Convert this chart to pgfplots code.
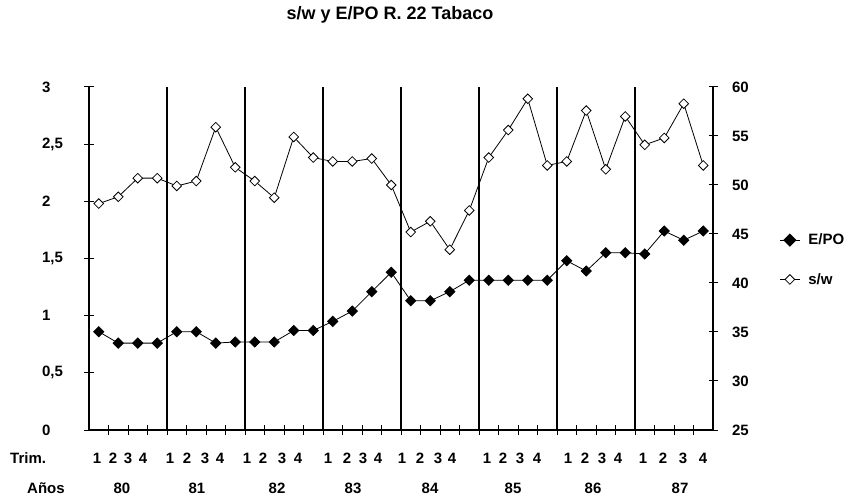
\documentclass[border=0pt]{standalone}
\usepackage{pgfplots}
\pgfplotsset{compat=1.18}
\usepackage{fontspec}
\setmainfont{Liberation Sans}
\newcommand{\lblfont}{\fontsize{15bp}{18bp}\selectfont\bfseries}
\newcommand{\titfont}{\fontsize{18bp}{21bp}\selectfont\bfseries}

\begin{document}
\begin{tikzpicture}
\path[use as bounding box] (-89bp,-68bp) rectangle (773bp,430bp);
\pgfplotsset{
  common/.style={
    scale only axis, width=624bp, height=343bp,
    xmin=0.5, xmax=32.5,
    axis line style={line width=1.3bp, black},
    tick style={black, line width=1bp},
    major tick length=9bp, tick align=center,
    clip=false,
  }
}
\begin{axis}[common,
  ymin=0, ymax=3,
  axis x line*=bottom, axis y line*=left,
  xtick={1.5,2.5,3.5,5.5,6.5,7.5,9.5,10.5,11.5,13.5,14.5,15.5,17.5,18.5,19.5,21.5,22.5,23.5,25.5,26.5,27.5,29.5,30.5,31.5},
  xticklabels={},
  extra x ticks={4.5,8.5,12.5,16.5,20.5,24.5,28.5},
  extra x tick labels={},
  extra x tick style={grid=major, major grid style={black, line width=1.2bp}},
  ytick={0,0.5,1,1.5,2,2.5,3},
  yticklabels={0,{0,5},1,{1,5},2,{2,5},3},
  yticklabel style={font=\lblfont, anchor=west, xshift=-46bp},
]
\addplot[black, line width=0.8bp, mark=square*, mark size=3.6bp, mark options={rotate=45, fill=black, solid}] coordinates {
(1,0.86) (2,0.76) (3,0.76) (4,0.76) (5,0.86) (6,0.86) (7,0.76) (8,0.77)
(9,0.77) (10,0.77) (11,0.87) (12,0.87) (13,0.95) (14,1.04) (15,1.21) (16,1.38)
(17,1.13) (18,1.13) (19,1.21) (20,1.31) (21,1.31) (22,1.31) (23,1.31) (24,1.31)
(25,1.48) (26,1.39) (27,1.55) (28,1.55) (29,1.54) (30,1.74) (31,1.66) (32,1.74)
};
\end{axis}
\begin{axis}[common,
  ymin=25, ymax=60,
  axis x line=none, axis y line*=right,
  ytick={25,30,35,40,45,50,55,60},
  yticklabels={25,30,35,40,45,50,55,60},
  yticklabel style={font=\lblfont, anchor=west, xshift=11bp},
  legend style={draw=none, fill=none, at={(1.106,0.578)}, anchor=north west,
    font=\lblfont, row sep=23bp, inner sep=0pt, cells={anchor=west},
    nodes={inner xsep=8bp}},
  legend image code/.code={\draw[mark repeat=2,mark phase=2,#1] plot coordinates {(0bp,0bp) (10bp,0bp) (20bp,0bp)};},
]
\addlegendimage{black, line width=1bp, mark=square*, mark size=4.2bp, mark options={rotate=45, fill=black}}
\addlegendentry{E/PO}
\addplot[black, line width=0.8bp, mark=square*, mark size=3.4bp, mark options={rotate=45, fill=white, solid}] coordinates {
(1,48.1) (2,48.8) (3,50.7) (4,50.7) (5,49.9) (6,50.4) (7,55.9) (8,51.8)
(9,50.4) (10,48.7) (11,54.9) (12,52.8) (13,52.4) (14,52.4) (15,52.7) (16,50.0)
(17,45.2) (18,46.3) (19,43.4) (20,47.4) (21,52.8) (22,55.6) (23,58.8) (24,52.0)
(25,52.4) (26,57.6) (27,51.6) (28,57.0) (29,54.1) (30,54.8) (31,58.3) (32,52.0)
};
\addlegendentry{s/w}
\end{axis}
% title and category labels
\node[font=\titfont] at (301bp,415bp) {s/w y E/PO R. 22 Tabaco};
\node[font=\lblfont, anchor=west, inner sep=0pt] at (-79bp,-28bp) {Trim.};
\node[font=\lblfont, anchor=west, inner sep=0pt] at (-62bp,-58bp) {Años};
\foreach \xx/\q in {8/1,24/2,39/3,54/4, 81/1,98/2,116/3,131/4, 158/1,174/2,193/3,209/4, 239/1,258/2,274/3,289/4, 313/1,331/2,349/3,363/4, 398/1,414/2,431/3,448/4, 479/1,496/2,513/3,529/4, 554/1,574/2,594/3,614/4}
  \node[font=\lblfont, inner sep=0pt] at (\xx bp,-28bp) {\q};
\foreach \xx/\yr in {33/80,108/81,188/82,264/83,341/84,424/85,504/86,591/87}
  \node[font=\lblfont, inner sep=0pt] at (\xx bp,-58bp) {\yr};
\end{tikzpicture}
\end{document}
